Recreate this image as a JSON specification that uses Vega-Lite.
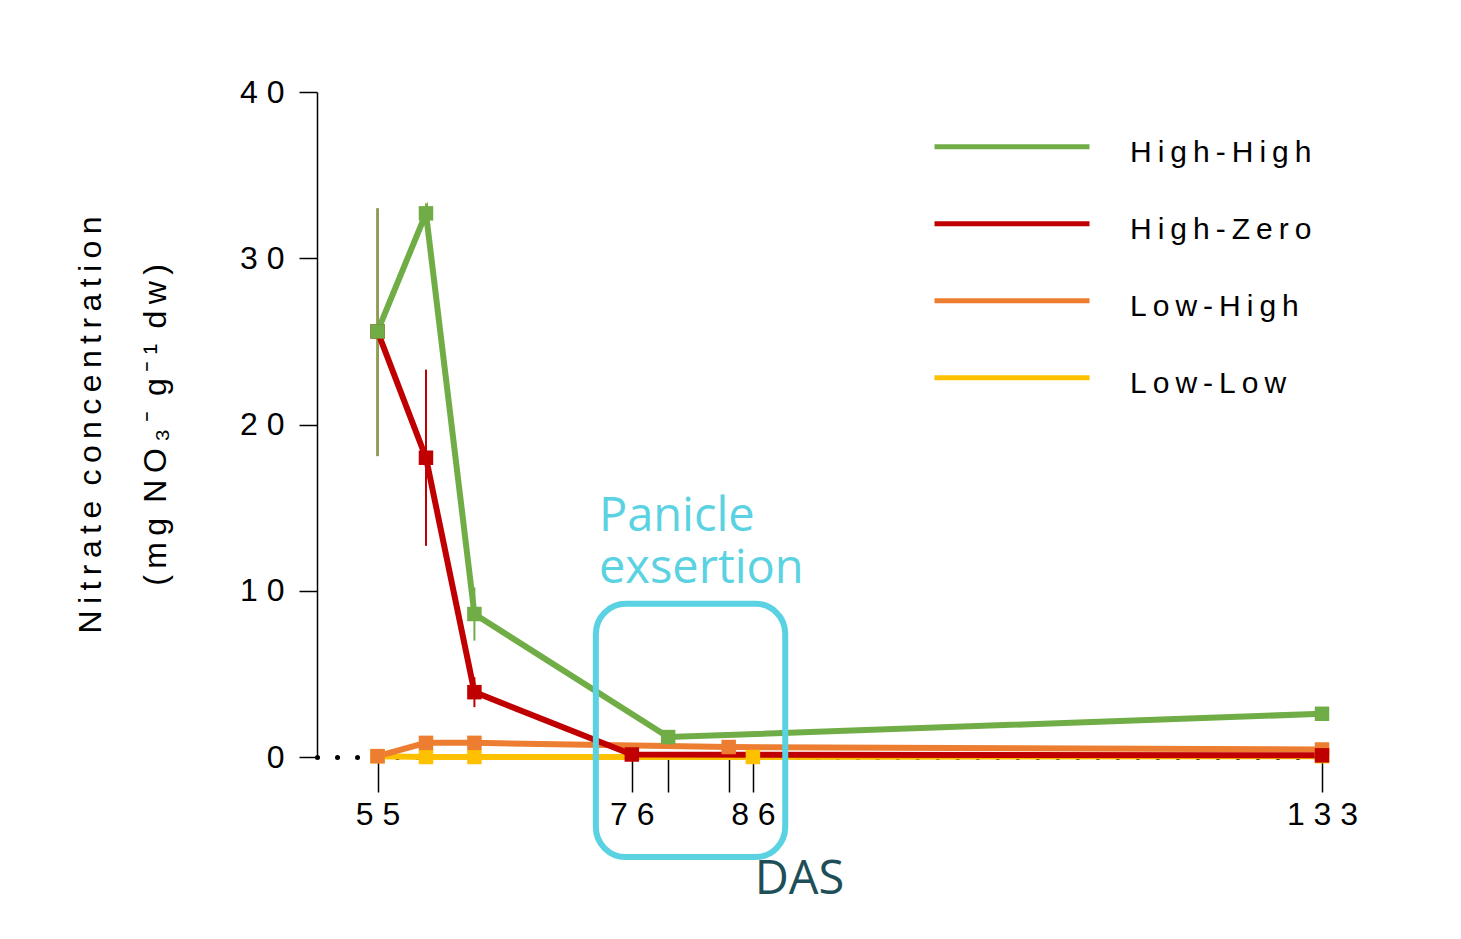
{
  "$schema": "https://vega.github.io/schema/vega-lite/v6.json",
  "width": 1005,
  "height": 665,
  "autosize": {"type": "none"},
  "padding": {"left": 317, "top": 92, "right": 139, "bottom": 182},
  "background": "white",
  "config": {"view": {"stroke": null}, "font": "Liberation Sans"},
  "datasets": {
    "means": [
      {"das": 55, "series": "Low-Low", "nitrate": 0.05},
      {"das": 59, "series": "Low-Low", "nitrate": 0.0},
      {"das": 63, "series": "Low-Low", "nitrate": 0.0},
      {"das": 86, "series": "Low-Low", "nitrate": 0.0},
      {"das": 133, "series": "Low-Low", "nitrate": 0.05},
      {"das": 55, "series": "Low-High", "nitrate": 0.05},
      {"das": 59, "series": "Low-High", "nitrate": 0.85},
      {"das": 63, "series": "Low-High", "nitrate": 0.85},
      {"das": 84, "series": "Low-High", "nitrate": 0.6},
      {"das": 133, "series": "Low-High", "nitrate": 0.45},
      {"das": 55, "series": "High-Zero", "nitrate": 25.6},
      {"das": 59, "series": "High-Zero", "nitrate": 18.0},
      {"das": 63, "series": "High-Zero", "nitrate": 3.9},
      {"das": 76, "series": "High-Zero", "nitrate": 0.15},
      {"das": 133, "series": "High-Zero", "nitrate": 0.1},
      {"das": 55, "series": "High-High", "nitrate": 25.6},
      {"das": 59, "series": "High-High", "nitrate": 32.7},
      {"das": 63, "series": "High-High", "nitrate": 8.6},
      {"das": 79, "series": "High-High", "nitrate": 1.2},
      {"das": 133, "series": "High-High", "nitrate": 2.6}
    ],
    "errors": [
      {"das": 55, "series": "High-Zero", "lo": 18.1, "hi": 33.0},
      {"das": 59, "series": "High-Zero", "lo": 12.7, "hi": 23.3},
      {"das": 63, "series": "High-Zero", "lo": 3.0, "hi": 4.8},
      {"das": 55, "series": "High-High", "lo": 18.1, "hi": 33.0},
      {"das": 59, "series": "High-High", "lo": 32.1, "hi": 33.3},
      {"das": 63, "series": "High-High", "lo": 7.0, "hi": 10.2}
    ],
    "events": [
      {"event": "Panicle exsertion"}
    ]
  },
  "data": {"name": "means"},
  "layer": [
    {
      "data": {"name": "errors"},
      "mark": {"type": "rule", "strokeWidth": 2},
      "encoding": {
        "x": {"field": "das", "type": "quantitative", "scale": {"domain": [50, 133], "nice": false, "zero": false}},
        "y": {"field": "lo", "type": "quantitative", "scale": {"domain": [0, 40], "nice": false}},
        "y2": {"field": "hi"},
        "color": {"field": "series", "type": "nominal", "scale": {"domain": ["High-High", "High-Zero", "Low-High", "Low-Low"], "range": ["#70AD47", "#C00000", "#ED7D31", "#FFC000"]}}
      }
    },
    {
      "mark": {"type": "line", "strokeWidth": 6, "point": {"shape": "square", "size": 210, "filled": true, "opacity": 1}},
      "encoding": {
        "x": {
          "field": "das", "type": "quantitative",
          "scale": {"domain": [50, 133], "nice": false, "zero": false},
          "axis": {
            "values": [55, 76, 79, 84, 86, 133],
            "labelExpr": "(datum.value == 55 || datum.value == 76 || datum.value == 86 || datum.value == 133) ? replace(datum.label, regexp('(.)(?=.)', 'g'), '$1 ') : ''",
            "tickSize": 35, "tickWidth": 1.5, "tickColor": "black",
            "domainDash": [0.01, 20], "domainCap": "round", "domainWidth": 5, "domainColor": "black",
            "labelFontSize": 32, "labelColor": "black", "labelPadding": 7, "labelFont": "Liberation Sans",
            "labelFlush": false, "labelOverlap": false, "grid": false,
            "title": "DAS", "titleFont": "Open Sans", "titleFontSize": 47, "titleFontWeight": "normal",
            "titleColor": "#1E4F58", "titleX": 482, "titleY": 136, "titleBaseline": "alphabetic", "titleAlign": "center"
          }
        },
        "y": {
          "field": "nitrate", "type": "quantitative",
          "scale": {"domain": [0, 40], "nice": false},
          "axis": {
            "values": [0, 10, 20, 30, 40],
            "labelExpr": "replace(datum.label, regexp('(.)(?=.)', 'g'), '$1 ')",
            "tickSize": 18, "tickWidth": 1.5, "tickColor": "black",
            "domainColor": "black", "domainWidth": 1.5,
            "labelFontSize": 32, "labelColor": "black", "labelPadding": 15, "labelFont": "Liberation Sans",
            "grid": false,
            "title": ["N\u2009i\u2009t\u2009r\u2009a\u2009t\u2009e \u2009c\u2009o\u2009n\u2009c\u2009e\u2009n\u2009t\u2009r\u2009a\u2009t\u2009i\u2009o\u2009n", "(\u2009m\u2009g \u2009N\u2009O\u2009\u2083\u2009\u207b \u2009g\u2009\u207b\u2009\u00b9 \u2009d\u2009w\u2009)"],
            "titleFont": "Liberation Sans", "titleFontSize": 32, "titleFontWeight": "normal", "titleColor": "black",
            "titleLineHeight": 65, "titlePadding": 67
          }
        },
        "color": {
          "field": "series", "type": "nominal",
          "scale": {"domain": ["High-High", "High-Zero", "Low-High", "Low-Low"], "range": ["#70AD47", "#C00000", "#ED7D31", "#FFC000"]},
          "legend": {
            "orient": "none", "legendX": 677, "legendY": 43, "title": null,
            "symbolType": "M-5,-0.4H5", "symbolSize": 961, "symbolStrokeWidth": 5,
            "rowPadding": 44, "labelOffset": 100,
            "labelFontSize": 30, "labelFont": "Liberation Sans", "labelColor": "black",
            "labelExpr": "replace(datum.label, regexp('(.)(?=.)', 'g'), '$1\u2009')", "labelLimit": 400, "padding": 0
          }
        }
      }
    },
    {
      "data": {"name": "events"},
      "mark": {"type": "rect", "filled": false, "color": "#5AD2E2", "strokeWidth": 6, "cornerRadius": 30},
      "encoding": {
        "x": {"datum": 73.03, "type": "quantitative", "scale": {"domain": [50, 133], "nice": false, "zero": false}},
        "x2": {"datum": 88.67},
        "y": {"datum": 9.22, "type": "quantitative", "scale": {"domain": [0, 40], "nice": false}},
        "y2": {"datum": -6.02}
      }
    },
    {
      "data": {"name": "events"},
      "mark": {"type": "text", "align": "left", "baseline": "alphabetic", "font": "Open Sans", "fontSize": 47, "color": "#5AD2E2", "lineHeight": 52},
      "encoding": {
        "x": {"datum": 73.28, "type": "quantitative", "scale": {"domain": [50, 133], "nice": false, "zero": false}},
        "y": {"datum": 13.62, "type": "quantitative", "scale": {"domain": [0, 40], "nice": false}},
        "text": {"value": ["Panicle", "exsertion"]}
      }
    }
  ]
}
